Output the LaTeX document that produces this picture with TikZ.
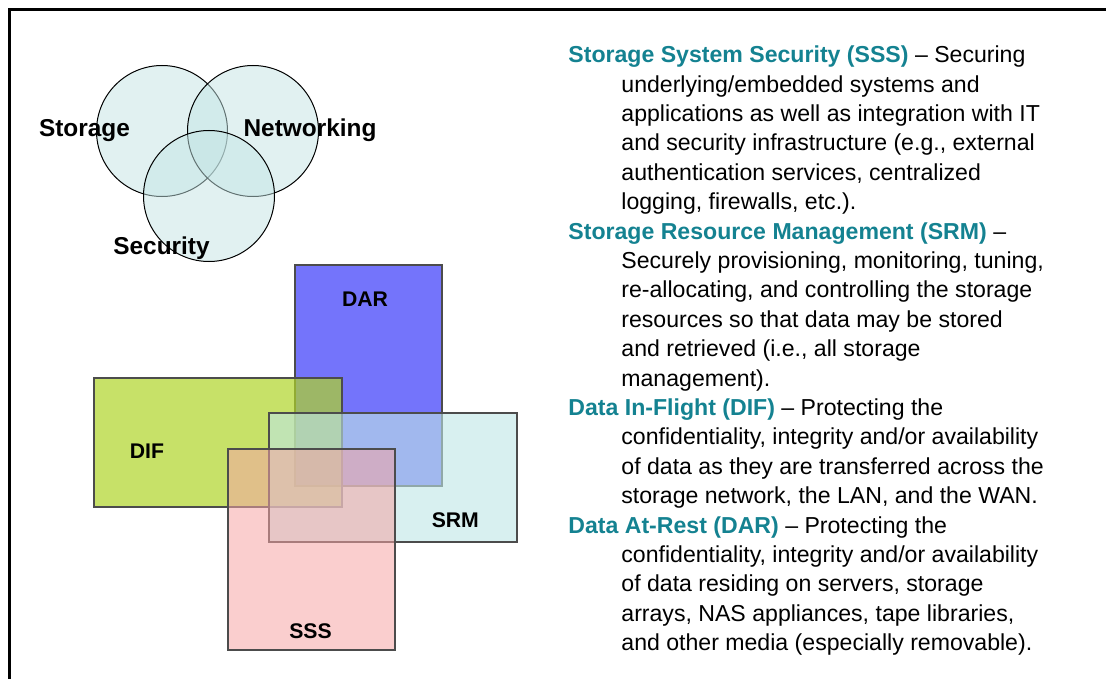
\documentclass[tikz,border=0pt]{standalone}
\usepackage{fontspec}
\setmainfont{Liberation Sans}
\usepackage{tikz}
\usetikzlibrary{positioning}

\definecolor{headteal}{RGB}{20,130,145}
\definecolor{venncol}{RGB}{195,228,228}
\definecolor{darcol}{RGB}{70,70,250}
\definecolor{difcol}{RGB}{175,212,40}
\definecolor{srmcol}{RGB}{190,230,230}
\definecolor{ssscol}{RGB}{245,165,165}

\newcommand{\hd}[1]{\textbf{\color{headteal}#1}}

\begin{document}
\begin{tikzpicture}[x=0.5pt,y=-0.5pt,
	venn/.style={circle, draw=black, line width=0.5pt, fill=venncol, fill opacity=0.5,
		minimum size=65.5pt, inner sep=0pt},
	vlabel/.style={anchor=base, inner sep=0pt, font=\fontsize{12.2}{14}\selectfont\bfseries},
	area/.style={rectangle, draw=black!70, line width=0.6pt, inner sep=0pt},
	alabel/.style={anchor=base, inner sep=0pt, font=\fontsize{10.6}{12}\selectfont\bfseries},
	entry/.style={anchor=base west, inner sep=0pt, font=\fontsize{11.55}{14.7}\selectfont}]
	\useasboundingbox (0,0) rectangle (1106,679);
	\draw[line width=1.5pt] (1106,10) -- (9,10) -- (9,679);

	% the three circles
	\node[venn] (storC) at (162,131) {};
	\node[venn] (netC) at (253,131) {};
	\node[venn] (secC) at (209,196) {};
	\node[vlabel] (storL) at (84.5,137) {Storage};
	\node[vlabel] (netL) at (310,137) {Networking};
	\node[vlabel] (secL) at (161.5,254) {Security};

	% the four areas
	\node[area, fill=darcol, fill opacity=0.75, minimum width=73.5pt, minimum height=110.5pt] (dar) at (368.5,375.5) {};
	\node[area, fill=difcol, fill opacity=0.7, minimum width=124pt, minimum height=64.5pt] (dif) at (218,442.5) {};
	\node[area, fill=srmcol, fill opacity=0.6, minimum width=124pt, minimum height=64.5pt] (srm) at (393,477.5) {};
	\node[area, fill=ssscol, fill opacity=0.55, minimum width=83.5pt, minimum height=100.5pt] (sss) at (311.5,549.5) {};
	\node[alabel] (darL) at (365,306.7) {DAR};
	\node[alabel] (difL) at (147,458) {DIF};
	\node[alabel] (srmL) at (455.3,527) {SRM};
	\node[alabel] (sssL) at (310.5,638) {SSS};

	% definitions
	\node[entry] (sssTxt) at (568,62.7) {\parbox[t]{290pt}{\hangindent=26.5pt\hangafter=1
		\hd{Storage System Security (SSS)} -- Securing\newline
		underlying/embedded systems and\newline
		applications as well as integration with IT\newline
		and security infrastructure (e.g., external\newline
		authentication services, centralized\newline
		logging, firewalls, etc.).}};
	\node[entry] (srmTxt) at (568,239.1) {\parbox[t]{290pt}{\hangindent=26.5pt\hangafter=1
		\hd{Storage Resource Management (SRM)} --\newline
		Securely provisioning, monitoring, tuning,\newline
		re-allocating, and controlling the storage\newline
		resources so that data may be stored\newline
		and retrieved (i.e., all storage\newline
		management).}};
	\node[entry] (difTxt) at (568,415.5) {\parbox[t]{290pt}{\hangindent=26.5pt\hangafter=1
		\hd{Data In-Flight (DIF)} -- Protecting the\newline
		confidentiality, integrity and/or availability\newline
		of data as they are transferred across the\newline
		storage network, the LAN, and the WAN.}};
	\node[entry] (darTxt) at (568,533.1) {\parbox[t]{290pt}{\hangindent=26.5pt\hangafter=1
		\hd{Data At-Rest (DAR)} -- Protecting the\newline
		confidentiality, integrity and/or availability\newline
		of data residing on servers, storage\newline
		arrays, NAS appliances, tape libraries,\newline
		and other media (especially removable).}};
\end{tikzpicture}
\end{document}
